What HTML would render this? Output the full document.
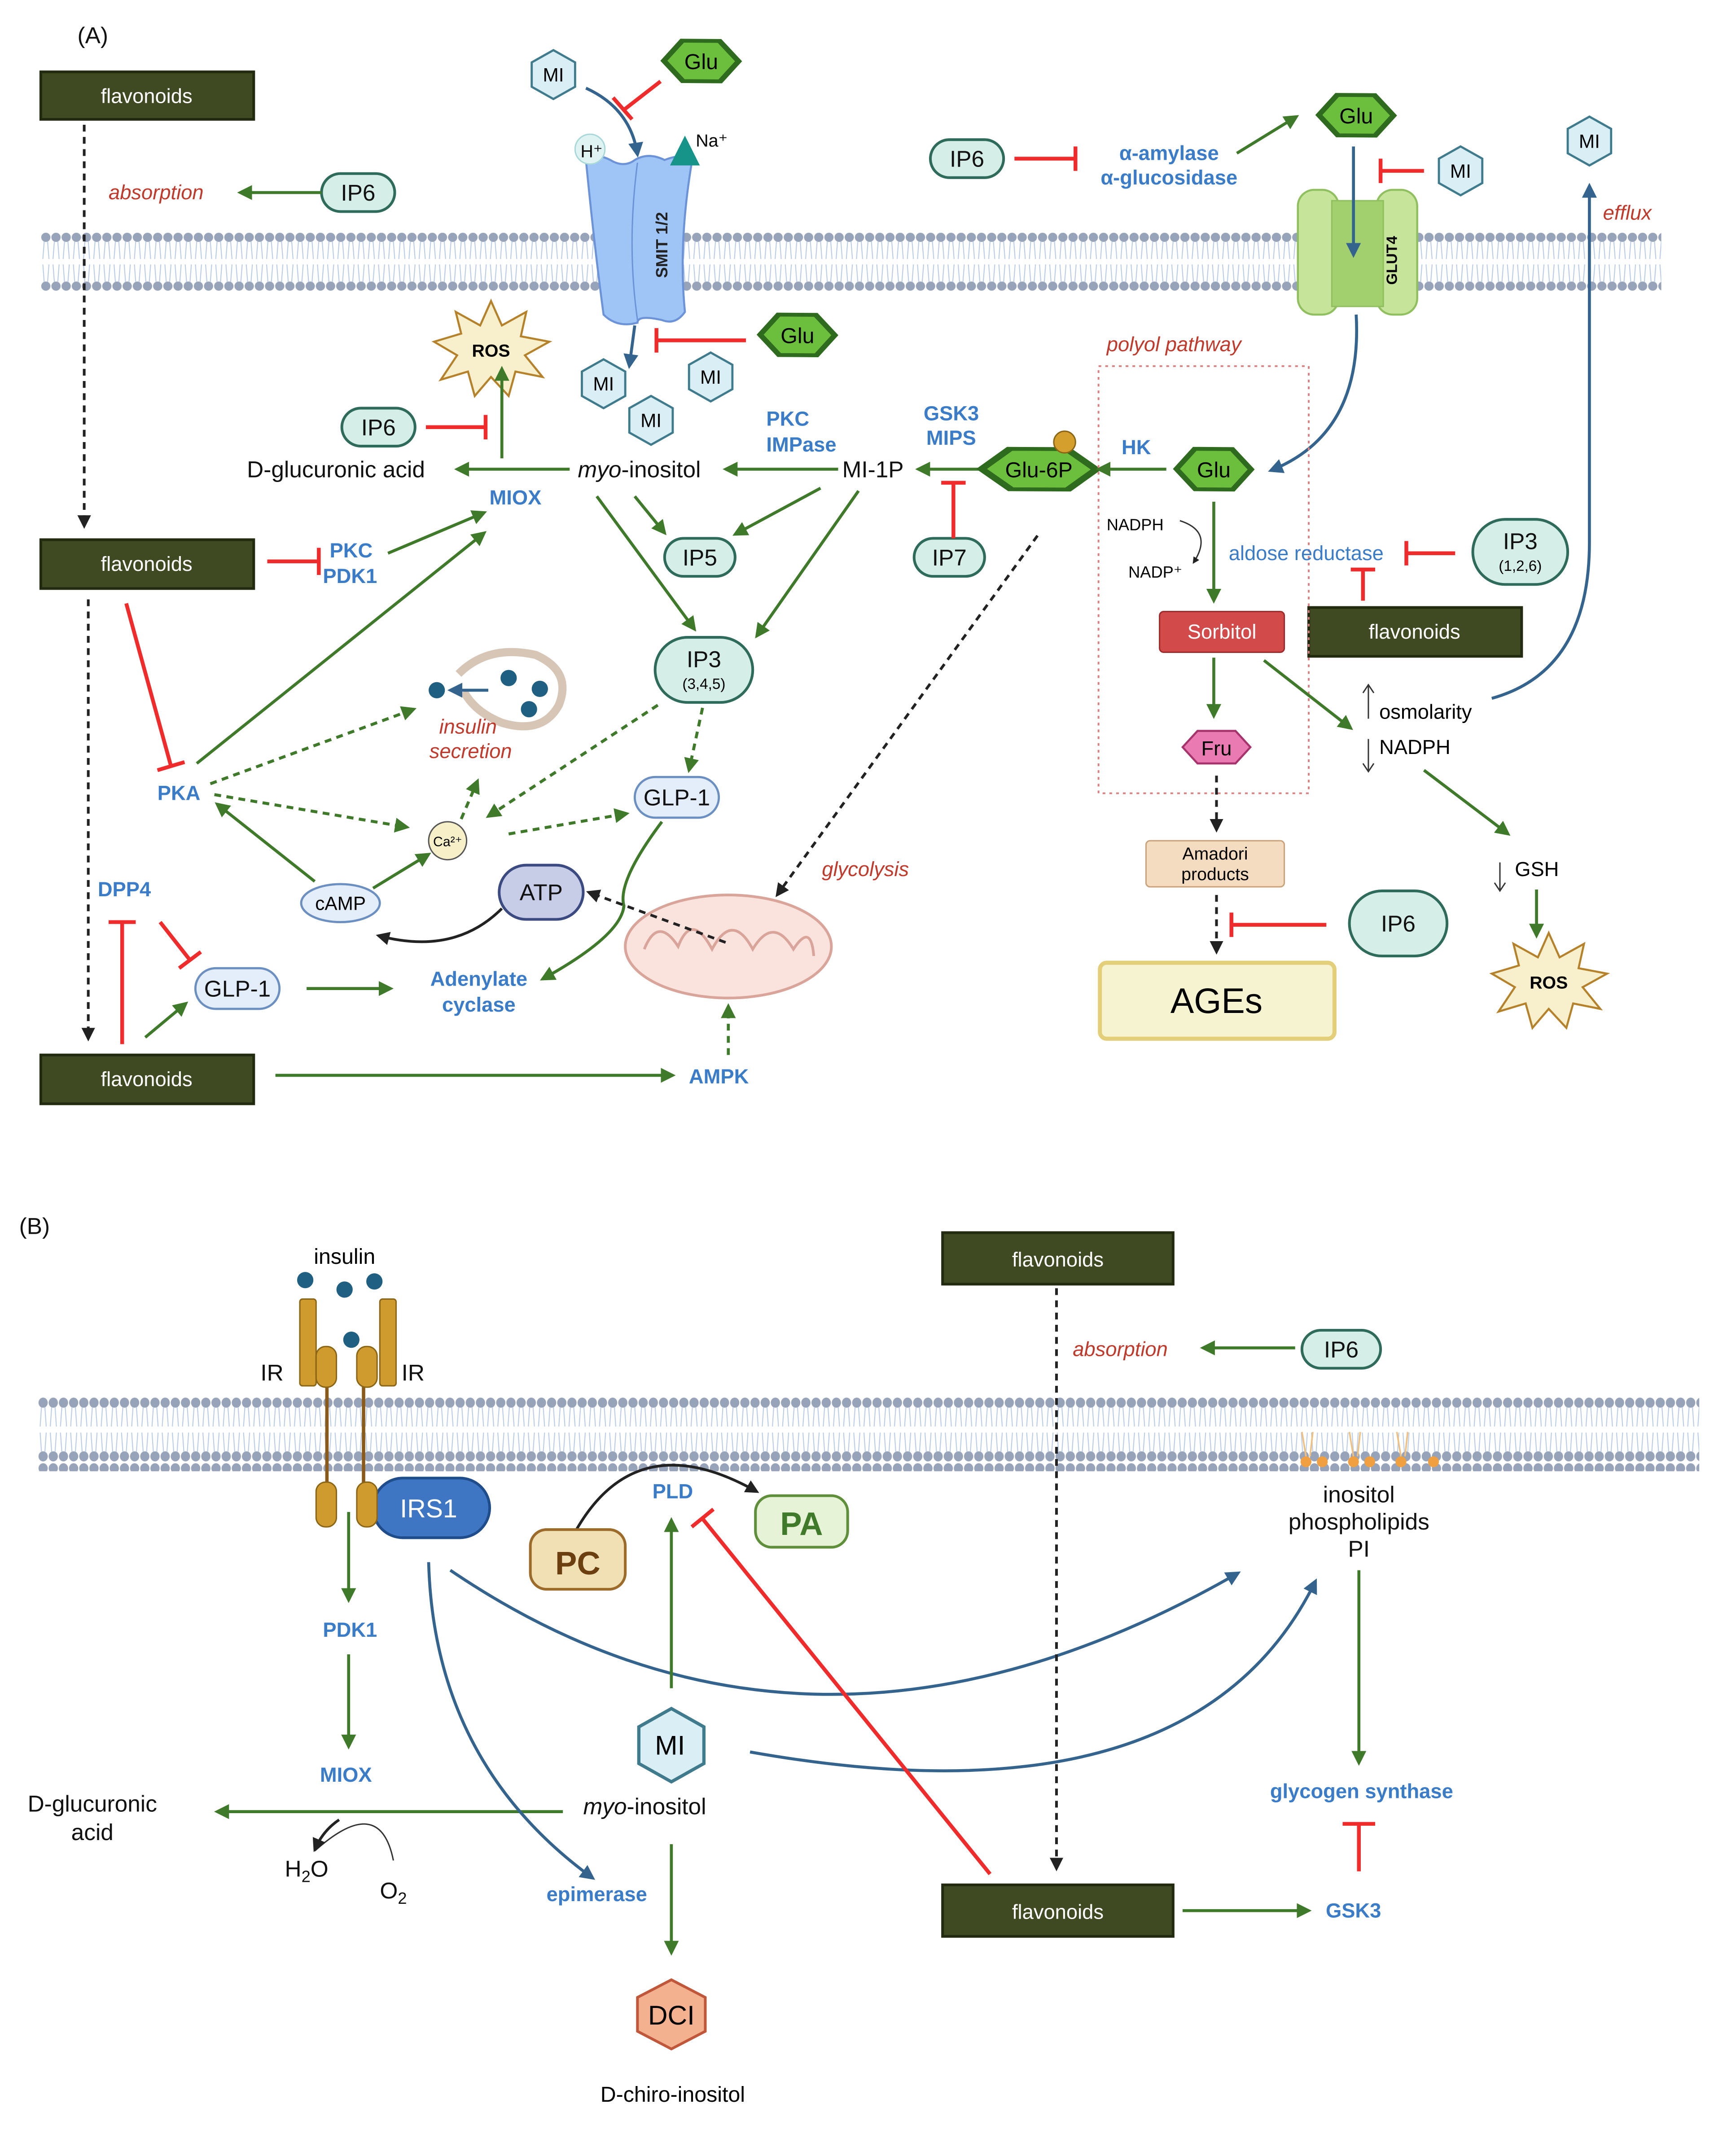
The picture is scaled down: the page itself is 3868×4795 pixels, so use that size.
<!DOCTYPE html>
<html><head><meta charset="utf-8"><style>
html,body{margin:0;padding:0;background:#fff}
svg{display:block}
text{font-family:"Liberation Sans",sans-serif}
.b{fill:#3a7cc8;font-weight:bold;font-size:15px}
.r{fill:#c0392b;font-style:italic;font-size:15px}
.k{fill:#111;font-size:17px}
.fw{fill:#fff;font-size:15px}
.g{stroke:#3f7a2a;stroke-width:2.2;fill:none}
.bl{stroke:#34648e;stroke-width:2.2;fill:none}
.rd{stroke:#ef2b2b;stroke-width:2.8;fill:none}
.dk{stroke:#222;stroke-width:2;fill:none}
.pill{fill:#d5efe8;stroke:#2e6b5b;stroke-width:2}
.mi{fill:#d9eff5;stroke:#3f7b8c;stroke-width:1.6}
.glu{fill:#6cbf3c;stroke:#2f6b1e;stroke-width:3}
.fl{fill:#3f4a22;stroke:#222a10;stroke-width:2}
</style></head><body>
<svg width="3868" height="4795" viewBox="0 0 1280 1587" xmlns="http://www.w3.org/2000/svg">
<defs>
<pattern id="mem" patternUnits="userSpaceOnUse" x="0" y="0" width="7.5" height="44">
<circle cx="3.7" cy="4" r="3.4" fill="#97a3b8"/><circle cx="3.7" cy="40" r="3.4" fill="#97a3b8"/>
<path d="M2.5 7 L1.5 20 M5 7 L6 20 M2.5 37 L1.5 24 M5 37 L6 24" stroke="#b8cbe6" stroke-width="0.7"/>
</pattern>
<marker id="ag" viewBox="0 0 10 10" refX="8" refY="5" markerWidth="5" markerHeight="5" orient="auto"><path d="M0 0L10 5L0 10z" fill="#3f7a2a"/></marker>
<marker id="ab" viewBox="0 0 10 10" refX="8" refY="5" markerWidth="5" markerHeight="5" orient="auto"><path d="M0 0L10 5L0 10z" fill="#34648e"/></marker>
<marker id="ak" viewBox="0 0 10 10" refX="8" refY="5" markerWidth="5" markerHeight="5" orient="auto"><path d="M0 0L10 5L0 10z" fill="#222"/></marker>
<g id="hex"><polygon points="0,-18 16,-9 16,9 0,18 -16,9 -16,-9"/></g>
</defs>

<!-- membranes -->
<g transform="translate(30,171)"><rect width="1195" height="44" fill="url(#mem)"/></g>
<g transform="translate(28,1030)"><rect width="1225" height="50" fill="url(#mem)" transform="scale(1,1.1)"/></g>

<!-- ===== A ===== -->
<text x="57" y="32" class="k" font-size="22">(A)</text>
<rect x="30" y="53" width="157" height="35" class="fl"/><text x="108" y="76" class="fw" text-anchor="middle">flavonoids</text>
<rect x="30" y="398" width="157" height="36" class="fl"/><text x="108" y="421" class="fw" text-anchor="middle">flavonoids</text>
<rect x="30" y="778" width="157" height="36" class="fl"/><text x="108" y="801" class="fw" text-anchor="middle">flavonoids</text>
<rect x="965" y="448" width="157" height="36" class="fl"/><text x="1043" y="471" class="fw" text-anchor="middle">flavonoids</text>

<path d="M62 92 V388" class="dk" stroke-dasharray="5,4" marker-end="url(#ak)"/>
<path d="M65 442 V766" class="dk" stroke-dasharray="5,4" marker-end="url(#ak)"/>

<text x="80" y="147" class="r">absorption</text>
<rect x="237" y="128" width="54" height="28" rx="14" class="pill"/><text x="264" y="148" class="k" text-anchor="middle">IP6</text>
<path d="M237 142 H177" class="g" marker-end="url(#ag)"/>

<!-- SMIT -->
<path d="M432 118 Q438 112 450 118 Q460 124 468 118 Q478 112 490 118 Q505 112 510 120 Q500 180 505 230 Q498 240 488 236 Q470 232 470 238 Q455 242 445 232 Q438 180 432 118z" fill="#9ec5f5" stroke="#6c93d8" stroke-width="1.5"/>
<path d="M470 120 Q462 180 470 236" stroke="#6c93d8" fill="none"/>
<text transform="translate(492,205) rotate(-90)" font-size="12" font-weight="bold" fill="#222">SMIT 1/2</text>
<circle cx="435" cy="110" r="11" fill="#dff3f3" stroke="#a8d8d8"/><text x="428" y="116" font-size="13">H⁺</text>
<polygon points="505,100 494,122 516,122" fill="#16948a"/><text x="513" y="108" font-size="13">Na⁺</text>
<g class="mi" transform="translate(408,55)"><use href="#hex"/></g><text x="408" y="60" text-anchor="middle" font-size="14">MI</text>
<g class="glu" transform="translate(517,45) scale(1.5,0.95)"><use href="#hex" transform="rotate(30)"/></g><text x="517" y="51" text-anchor="middle" font-size="16">Glu</text>
<path d="M432 65 Q465 80 470 114" class="bl" marker-end="url(#ab)"/>
<path d="M487 60 L460 81 M452 72 L466 88" class="rd"/>
<path d="M468 240 L464 270" class="bl" marker-end="url(#ab)"/>
<g class="glu" transform="translate(588,247) scale(1.5,0.95)"><use href="#hex" transform="rotate(30)"/></g><text x="588" y="253" text-anchor="middle" font-size="16">Glu</text>
<path d="M550 251 H484 M484 242 V260" class="rd"/>
<g class="mi" transform="translate(445,283)"><use href="#hex"/></g><text x="445" y="288" text-anchor="middle" font-size="14">MI</text>
<g class="mi" transform="translate(480,310)"><use href="#hex"/></g><text x="480" y="315" text-anchor="middle" font-size="14">MI</text>
<g class="mi" transform="translate(524,278)"><use href="#hex"/></g><text x="524" y="283" text-anchor="middle" font-size="14">MI</text>

<!-- ROS -->
<polygon points="362,222 370,240 388,230 384,248 405,252 387,262 400,278 380,274 375,292 362,278 350,292 345,274 325,280 337,262 320,252 340,246 336,230 354,240" fill="#f8f0cc" stroke="#b5812a" stroke-width="1.5"/>
<text x="362" y="263" text-anchor="middle" font-size="13" font-weight="bold">ROS</text>
<path d="M370 338 V272" class="g" marker-end="url(#ag)"/>
<rect x="252" y="301" width="54" height="28" rx="14" class="pill"/><text x="279" y="321" class="k" text-anchor="middle">IP6</text>
<path d="M314 315 H358 M358 306 V324" class="rd"/>
<text x="182" y="352" class="k">D-glucuronic acid</text>
<path d="M420 346 H337" class="g" marker-end="url(#ag)"/>
<text x="426" y="352" class="k"><tspan font-style="italic">myo</tspan>-inositol</text>
<text x="380" y="372" class="b" text-anchor="middle">MIOX</text>
<path d="M618 346 H535" class="g" marker-end="url(#ag)"/>
<text x="565" y="314" class="b">PKC</text><text x="565" y="333" class="b">IMPase</text>
<text x="621" y="352" class="k">MI-1P</text>
<path d="M722 346 H677" class="g" marker-end="url(#ag)"/>
<text x="681" y="310" class="b">GSK3</text><text x="683" y="328" class="b">MIPS</text>
<g class="glu" transform="translate(766,346) scale(2.3,0.95)"><use href="#hex" transform="rotate(30)"/></g><text x="766" y="352" text-anchor="middle" font-size="16">Glu-6P</text>
<circle cx="785" cy="326" r="8" fill="#d59f2e" stroke="#8a6515"/>
<path d="M860 346 H810" class="g" stroke-width="1.6" marker-end="url(#ag)"/>
<text x="827" y="335" class="b">HK</text>
<g class="glu" transform="translate(895,346) scale(1.5,0.95)"><use href="#hex" transform="rotate(30)"/></g><text x="895" y="352" text-anchor="middle" font-size="16">Glu</text>
<rect x="674" y="397" width="52" height="28" rx="14" class="pill"/><text x="700" y="417" class="k" text-anchor="middle">IP7</text>
<path d="M703 397 V356 M694 356 H712" class="rd"/>
<path d="M468 366 L490 393" class="g" marker-end="url(#ag)"/>
<path d="M605 360 L542 394" class="g" marker-end="url(#ag)"/>
<rect x="490" y="397" width="52" height="28" rx="14" class="pill"/><text x="516" y="417" class="k" text-anchor="middle">IP5</text>
<path d="M440 366 L512 464" class="g" marker-end="url(#ag)"/>
<path d="M633 362 L558 469" class="g" marker-end="url(#ag)"/>
<rect x="483" y="470" width="72" height="48" rx="24" class="pill"/><text x="519" y="492" class="k" text-anchor="middle">IP3</text><text x="519" y="508" text-anchor="middle" font-size="11">(3,4,5)</text>

<path d="M197 414 H235 M235 404 V424" class="rd"/>
<text x="243" y="411" class="b">PKC</text><text x="238" y="430" class="b">PDK1</text>
<path d="M286 408 L357 378" class="g" marker-end="url(#ag)"/>
<path d="M145 563 L357 393" class="g" marker-end="url(#ag)"/>
<path d="M93 445 L126 565 M116 568 L136 562" class="rd"/>
<text x="116" y="590" class="b">PKA</text>
<!-- insulin secretion vesicle -->
<path d="M338 497 Q360 475 395 483 Q422 495 412 520 Q400 542 370 533 Q350 525 342 510" fill="none" stroke="#d7c6b6" stroke-width="6"/>
<circle cx="375" cy="500" r="6" fill="#1f5f82"/><circle cx="398" cy="508" r="6" fill="#1f5f82"/><circle cx="390" cy="523" r="6" fill="#1f5f82"/>
<circle cx="322" cy="509" r="6" fill="#1f5f82"/><path d="M360 509 H332" class="bl" stroke-width="1.5" marker-end="url(#ab)"/>
<text x="345" y="541" class="r" text-anchor="middle">insulin</text><text x="347" y="559" class="r" text-anchor="middle">secretion</text>
<path d="M155 578 L305 523" class="g" stroke-dasharray="5,4" marker-end="url(#ag)"/>
<path d="M158 586 L300 610" class="g" stroke-dasharray="5,4" marker-end="url(#ag)"/>
<circle cx="330" cy="620" r="14" fill="#f7efc8" stroke="#555"/><text x="330" y="624" text-anchor="middle" font-size="10">Ca²⁺</text>
<path d="M340 604 L352 576" class="g" stroke-dasharray="5,4" marker-end="url(#ag)"/>
<path d="M485 520 L360 602" class="g" stroke-dasharray="5,4" marker-end="url(#ag)"/>
<path d="M518 522 L508 568" class="g" stroke-dasharray="5,4" marker-end="url(#ag)"/>
<path d="M375 615 L462 600" class="g" stroke-dasharray="5,4" marker-end="url(#ag)"/>
<rect x="468" y="573" width="62" height="30" rx="15" fill="#e4eefa" stroke="#6a8fc0" stroke-width="1.6"/><text x="499" y="594" class="k" text-anchor="middle" font-size="15">GLP-1</text>
<ellipse cx="251" cy="666" rx="29" ry="14" fill="#e4eefa" stroke="#6a8fc0" stroke-width="1.6"/><text x="251" y="671" text-anchor="middle" font-size="14">cAMP</text>
<path d="M232 650 L160 593" class="g" marker-end="url(#ag)"/>
<path d="M275 655 L316 630" class="g" marker-end="url(#ag)"/>
<rect x="368" y="638" width="62" height="40" rx="20" fill="#c7cde6" stroke="#3b4a80" stroke-width="2"/><text x="399" y="664" class="k" text-anchor="middle" font-size="19">ATP</text>
<path d="M370 670 Q335 705 279 690" class="dk" marker-end="url(#ak)"/>
<path d="M488 606 Q455 650 460 668 Q458 690 400 722" class="g" marker-end="url(#ag)"/>
<!-- mito -->
<ellipse cx="537" cy="698" rx="76" ry="38" fill="#f9e3dc" stroke="#d9a49a" stroke-width="2"/>
<path d="M475 700 Q485 675 500 698 Q510 672 525 700 Q540 672 555 700 Q570 675 585 700 Q598 680 600 705" fill="none" stroke="#d9a49a" stroke-width="2"/>
<path d="M535 695 L434 658" class="dk" stroke-dasharray="5,4" marker-end="url(#ak)"/>
<path d="M765 395 L573 660" class="dk" stroke-dasharray="5,4" marker-end="url(#ak)"/>
<text x="606" y="646" class="r">glycolysis</text>
<path d="M537 778 V742" class="g" stroke-dasharray="5,4" marker-end="url(#ag)"/>
<text x="530" y="799" class="b" text-anchor="middle">AMPK</text>
<path d="M203 793 H496" class="g" marker-end="url(#ag)"/>
<text x="353" y="727" class="b" text-anchor="middle">Adenylate</text><text x="353" y="746" class="b" text-anchor="middle">cyclase</text>
<text x="72" y="661" class="b">DPP4</text>
<path d="M90 770 V680 M80 680 H100" class="rd"/>
<path d="M118 680 L140 708 M132 714 L148 702" class="rd"/>
<path d="M107 765 L137 740" class="g" marker-end="url(#ag)"/>
<rect x="144" y="714" width="62" height="30" rx="15" fill="#e4eefa" stroke="#6a8fc0" stroke-width="1.6"/><text x="175" y="735" class="k" text-anchor="middle" font-size="15">GLP-1</text>
<path d="M226 729 H288" class="g" marker-end="url(#ag)"/>

<!-- right top -->
<rect x="686" y="103" width="54" height="28" rx="14" class="pill"/><text x="713" y="123" class="k" text-anchor="middle">IP6</text>
<path d="M748 117 H793 M793 108 V126" class="rd"/>
<text x="862" y="118" class="b" text-anchor="middle">α-amylase</text><text x="862" y="136" class="b" text-anchor="middle">α-glucosidase</text>
<path d="M912 113 L956 86" class="g" marker-end="url(#ag)"/>
<g class="glu" transform="translate(1000,85) scale(1.5,0.95)"><use href="#hex" transform="rotate(30)"/></g><text x="1000" y="91" text-anchor="middle" font-size="16">Glu</text>
<!-- GLUT4 -->
<rect x="957" y="140" width="30" height="92" rx="12" fill="#c7e59a" stroke="#8fbf5e" stroke-width="1.5"/>
<rect x="1015" y="140" width="30" height="92" rx="12" fill="#c7e59a" stroke="#8fbf5e" stroke-width="1.5"/>
<rect x="982" y="148" width="38" height="78" fill="#a3d06e" stroke="#8fbf5e"/>
<text transform="translate(1030,210) rotate(-90)" font-size="11" font-weight="bold">GLUT4</text>
<path d="M998 108 V188" class="bl" marker-end="url(#ab)"/>
<g class="mi" transform="translate(1077,126)"><use href="#hex"/></g><text x="1077" y="131" text-anchor="middle" font-size="14">MI</text>
<path d="M1050 126 H1018 M1018 117 V135" class="rd"/>
<g class="mi" transform="translate(1172,104)"><use href="#hex"/></g><text x="1172" y="109" text-anchor="middle" font-size="14">MI</text>
<text x="1182" y="162" class="r">efflux</text>
<path d="M1000 232 Q1005 320 937 347" class="bl" marker-end="url(#ab)"/>
<path d="M1100 515 Q1172 495 1172 400 V137" class="bl" marker-end="url(#ab)"/>
<text x="816" y="259" class="r">polyol pathway</text>
<rect x="810" y="270" width="155" height="315" fill="none" stroke="#d98080" stroke-width="1.3" stroke-dasharray="2,3"/>
<path d="M895 370 V443" class="g" marker-end="url(#ag)"/>
<text x="816" y="391" font-size="12">NADPH</text><text x="832" y="426" font-size="12">NADP⁺</text>
<path d="M870 384 Q895 392 880 415" fill="none" stroke="#333" stroke-width="1" marker-end="url(#ak)"/>
<text x="906" y="413" fill="#3a7cc8" font-size="15">aldose reductase</text>
<rect x="1086" y="383" width="70" height="48" rx="24" class="pill"/><text x="1121" y="405" class="k" text-anchor="middle">IP3</text><text x="1121" y="421" text-anchor="middle" font-size="11">(1,2,6)</text>
<path d="M1073 408 H1037 M1037 399 V417" class="rd"/>
<path d="M1005 443 V420 M996 420 H1014" class="rd"/>
<rect x="855" y="451" width="92" height="30" rx="3" fill="#d24a4a" stroke="#9c2a2a"/><text x="901" y="471" class="fw" text-anchor="middle" font-size="14">Sorbitol</text>
<path d="M895 485 V528" class="g" marker-end="url(#ag)"/>
<polygon points="883,539 911,539 922,551 911,563 883,563 872,551" fill="#ea7ab2" stroke="#a6336c" stroke-width="1.5"/><text x="897" y="557" text-anchor="middle" font-size="15">Fru</text>
<path d="M932 487 L996 537" class="g" marker-end="url(#ag)"/>
<text x="1017" y="530" font-size="15">osmolarity</text><text x="1017" y="556" font-size="15">NADPH</text>
<path d="M1009 530 V506 M1005 511 L1009 505 L1013 511" stroke="#333" fill="none" stroke-width="1"/>
<path d="M1009 545 V568 M1005 563 L1009 569 L1013 563" stroke="#333" fill="none" stroke-width="1"/>
<path d="M1050 568 L1112 615" class="g" marker-end="url(#ag)"/>
<text x="1117" y="646" font-size="15">GSH</text>
<path d="M1106 636 V656 M1102 651 L1106 657 L1110 651" stroke="#333" fill="none" stroke-width="1"/>
<path d="M1133 656 V690" class="g" marker-end="url(#ag)"/>
<polygon points="1142,688 1150,706 1168,696 1164,714 1185,718 1167,728 1180,744 1160,740 1155,758 1142,744 1130,758 1125,740 1105,746 1117,728 1100,718 1120,712 1116,696 1134,706" fill="#f8f0cc" stroke="#b5812a" stroke-width="1.5"/>
<text x="1142" y="729" text-anchor="middle" font-size="13" font-weight="bold">ROS</text>
<path d="M897 572 V612" class="dk" stroke-dasharray="5,4" marker-end="url(#ak)"/>
<rect x="845" y="620" width="102" height="34" rx="3" fill="#f3dcc0" stroke="#c9a27a"/><text x="896" y="634" text-anchor="middle" font-size="13">Amadori</text><text x="896" y="649" text-anchor="middle" font-size="13">products</text>
<path d="M897 660 V702" class="dk" stroke-dasharray="5,4" marker-end="url(#ak)"/>
<rect x="995" y="657" width="72" height="48" rx="24" class="pill"/><text x="1031" y="687" class="k" text-anchor="middle">IP6</text>
<path d="M978 682 H908 M908 673 V691" class="rd"/>
<rect x="811" y="710" width="173" height="56" rx="5" fill="#f6f3d0" stroke="#e3cf7a" stroke-width="3"/><text x="897" y="747" text-anchor="middle" font-size="26">AGEs</text>

<!-- ===== B ===== -->
<text x="14" y="910" class="k" font-size="22">(B)</text>
<text x="254" y="932" text-anchor="middle" font-size="16">insulin</text>
<circle cx="225" cy="944" r="6" fill="#1f5f82"/><circle cx="254" cy="951" r="6" fill="#1f5f82"/><circle cx="276" cy="945" r="6" fill="#1f5f82"/><circle cx="259" cy="988" r="6" fill="#1f5f82"/>
<rect x="221" y="958" width="12" height="64" rx="2" fill="#cf9a2e" stroke="#8a6515"/>
<rect x="280" y="958" width="12" height="64" rx="2" fill="#cf9a2e" stroke="#8a6515"/>
<path d="M241 1020 V1095 M268 1020 V1095" stroke="#8a5a1a" stroke-width="2.5"/>
<rect x="233" y="993" width="15" height="30" rx="7" fill="#cf9a2e" stroke="#8a6515"/>
<rect x="263" y="993" width="15" height="30" rx="7" fill="#cf9a2e" stroke="#8a6515"/>
<text x="192" y="1018" class="k" font-size="22">IR</text><text x="296" y="1018" class="k" font-size="22">IR</text>
<rect x="275" y="1090" width="86" height="44" rx="22" fill="#3f76c4" stroke="#1f4c8a" stroke-width="2"/><text x="316" y="1119" fill="#fff" font-size="19" text-anchor="middle">IRS1</text>
<rect x="233" y="1093" width="15" height="33" rx="7" fill="#cf9a2e" stroke="#8a6515"/>
<rect x="263" y="1093" width="15" height="33" rx="7" fill="#cf9a2e" stroke="#8a6515"/>
<path d="M257 1115 V1180" class="g" marker-end="url(#ag)"/>
<text x="258" y="1207" class="b" text-anchor="middle">PDK1</text>
<path d="M257 1220 V1288" class="g" marker-end="url(#ag)"/>
<text x="255" y="1314" class="b" text-anchor="middle">MIOX</text>
<text x="68" y="1336" class="k" text-anchor="middle">D-glucuronic</text><text x="68" y="1357" class="k" text-anchor="middle">acid</text>
<path d="M415 1336 H160" class="g" marker-end="url(#ag)"/>
<path d="M290 1372 Q280 1322 232 1365" fill="none" stroke="#333" stroke-width="1" />
<path d="M250 1342 Q238 1350 232 1364" class="dk" stroke-width="2.5" marker-end="url(#ak)"/>
<text x="226" y="1384" class="k" text-anchor="middle">H<tspan font-size="12" dy="4">2</tspan><tspan dy="-4">O</tspan></text>
<text x="290" y="1400" class="k" text-anchor="middle">O<tspan font-size="12" dy="4">2</tspan></text>
<path d="M332 1158 Q600 1340 913 1160" class="bl" marker-end="url(#ab)"/>
<path d="M316 1152 Q320 1300 437 1385" class="bl" marker-end="url(#ab)"/>
<text x="440" y="1402" class="b" text-anchor="middle">epimerase</text>
<g class="mi" transform="translate(495,1287) scale(1.5)"><use href="#hex"/></g><text x="494" y="1294" text-anchor="middle" font-size="20">MI</text>
<text x="430" y="1338" class="k"><tspan font-style="italic">myo</tspan>-inositol</text>
<path d="M553 1292 Q880 1350 970 1166" class="bl" marker-end="url(#ab)"/>
<path d="M495 1245 V1121" class="g" marker-end="url(#ag)"/>
<text x="496" y="1105" class="b" text-anchor="middle">PLD</text>
<path d="M425 1128 Q470 1050 558 1100" class="dk" stroke-width="2.2" marker-end="url(#ak)"/>
<rect x="391" y="1128" width="70" height="44" rx="12" fill="#f1e0b4" stroke="#9c6b2a" stroke-width="2"/><text x="426" y="1161" text-anchor="middle" font-size="24" font-weight="bold" fill="#6b3f10">PC</text>
<rect x="557" y="1103" width="68" height="38" rx="12" fill="#e6f3d6" stroke="#5f8f3a" stroke-width="2"/><text x="591" y="1132" text-anchor="middle" font-size="24" font-weight="bold" fill="#3f7a2a">PA</text>
<path d="M730 1382 L518 1120 M510 1126 L526 1113" class="rd"/>
<path d="M495 1360 V1440" class="g" marker-end="url(#ag)"/>
<polygon points="495,1460 520,1473 520,1498 495,1511 470,1498 470,1473" fill="#f3b18f" stroke="#c0563a" stroke-width="2"/><text x="495" y="1493" text-anchor="middle" font-size="20">DCI</text>
<text x="496" y="1550" text-anchor="middle" font-size="16">D-chiro-inositol</text>

<rect x="695" y="909" width="170" height="38" class="fl"/><text x="780" y="934" class="fw" font-size="16" text-anchor="middle">flavonoids</text>
<path d="M779 950 V1378" class="dk" stroke-dasharray="5,4" marker-end="url(#ak)"/>
<text x="791" y="1000" class="r">absorption</text>
<rect x="960" y="981" width="58" height="28" rx="14" class="pill"/><text x="989" y="1001" class="k" text-anchor="middle">IP6</text>
<path d="M955 994 H887" class="g" marker-end="url(#ag)"/>
<g fill="#f0a040"><circle cx="963" cy="1078" r="4"/><circle cx="975" cy="1078" r="4"/><circle cx="998" cy="1078" r="4"/><circle cx="1010" cy="1078" r="4"/><circle cx="1033" cy="1078" r="4"/><circle cx="1057" cy="1078" r="4"/></g>
<path d="M963 1074 L960 1056 M966 1074 L968 1056 M998 1074 L995 1056 M1001 1074 L1003 1056 M1033 1074 L1030 1056 M1036 1074 L1038 1056" stroke="#f0c080" stroke-width="1.2"/>
<text x="1002" y="1108" class="k" text-anchor="middle" font-size="16">inositol</text>
<text x="1002" y="1128" class="k" text-anchor="middle" font-size="16">phospholipids</text>
<text x="1002" y="1148" class="k" text-anchor="middle" font-size="16">PI</text>
<path d="M1002 1158 V1300" class="g" stroke-width="3" marker-end="url(#ag)"/>
<text x="1004" y="1326" class="b" font-size="16" text-anchor="middle">glycogen synthase</text>
<path d="M1002 1380 V1345 M990 1345 H1014" class="rd" stroke-width="3.5"/>
<rect x="695" y="1390" width="170" height="38" class="fl"/><text x="780" y="1415" class="fw" font-size="16" text-anchor="middle">flavonoids</text>
<path d="M872 1409 H965" class="g" stroke-width="3" marker-end="url(#ag)"/>
<text x="998" y="1414" class="b" font-size="16" text-anchor="middle">GSK3</text>
</svg>
</body></html>
